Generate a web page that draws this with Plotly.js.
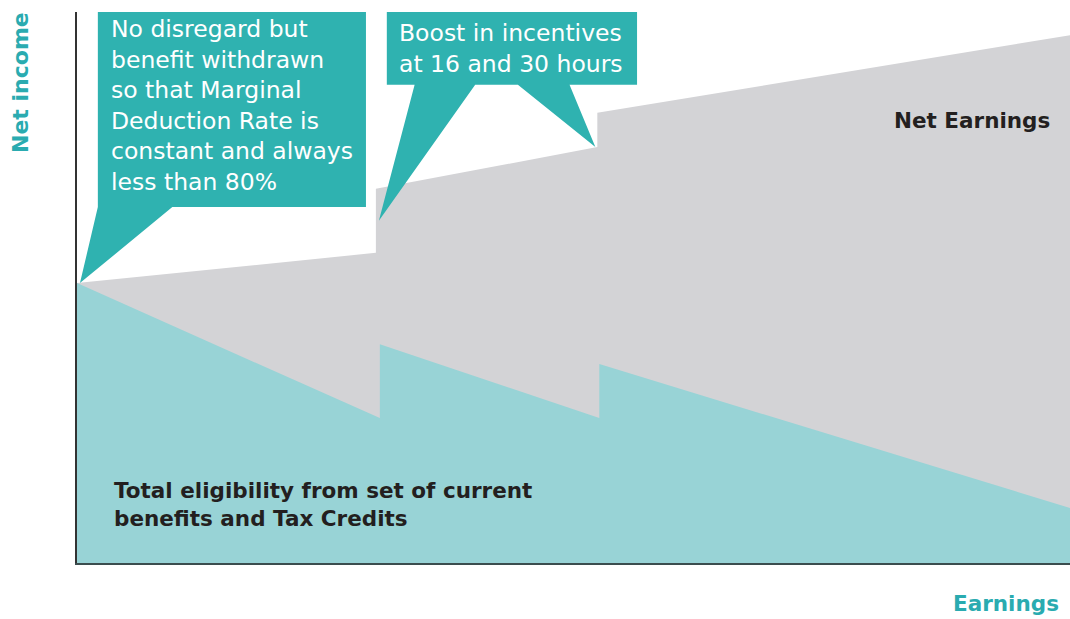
<!DOCTYPE html>
<html>
<head>
<meta charset="utf-8">
<script src="https://cdn.plot.ly/plotly-3.0.1.min.js"></script>
<style>html,body{margin:0;padding:0;background:#fff;}#chart{width:1070px;height:619px;}</style>
</head>
<body>
<div id="chart"></div>
<script>
// Earnings (arbitrary units, 0-100) and net income (arbitrary units, 0-100)
const benefitX = [0, 30.5, 30.5, 52.6, 52.6, 100];
const benefitY = [50.8, 26.3, 39.7, 26.3, 36.1, 10.0];
const netX = [0, 30.1, 30.1, 52.4, 52.4, 100];
const netY = [50.8, 56.3, 67.9, 75.5, 81.7, 95.8];

const callout1Lines = ["No disregard but", "benefit withdrawn", "so that Marginal", "Deduction Rate is", "constant and always", "less than 80%"];
const callout2Lines = ["Boost in incentives", "at 16 and 30 hours"];
const benefitLabelLines = ["Total eligibility from set of current", "benefits and Tax Credits"];
const netLabel = "Net Earnings";
const yTitle = "Net income";
const xTitle = "Earnings";

const TEAL_DARK = '#2fb2b0';
const TEAL_LIGHT = '#98d3d6';
const GREY = '#d3d3d6';
const TEAL_TITLE = '#2aabb0';
const DARK = '#231f20';
const FONT = 'DejaVu Sans, sans-serif';

const traces = [
  {x: netX, y: netY, type: 'scatter', mode: 'lines', fill: 'tozeroy', fillcolor: GREY,
   line: {width: 0, color: GREY}, hoverinfo: 'skip', showlegend: false},
  {x: benefitX, y: benefitY, type: 'scatter', mode: 'lines', fill: 'tozeroy', fillcolor: TEAL_LIGHT,
   line: {width: 0, color: TEAL_LIGHT}, hoverinfo: 'skip', showlegend: false}
];

// Callout geometry (data units); pointer tips taken from the series
const tip1 = [netX[0] + 0.3, netY[0]];
const tip2 = [netX[1] + 0.3, (netY[1] + netY[2]) / 2];
const tip3 = [netX[3] - 0.2, netY[3]];
const box1 = {x0: 2.1, x1: 29.1, y0: 64.6, y1: 100};
const box2 = {x0: 31.2, x1: 56.4, y0: 86.8, y1: 100};

const path1 = `M ${box1.x0},${box1.y1} L ${box1.x1},${box1.y1} L ${box1.x1},${box1.y0} L 9.6,${box1.y0} L ${tip1[0]},${tip1[1]} L ${box1.x0},${box1.y0} Z`;
const path2 = `M ${box2.x0},${box2.y1} L ${box2.x1},${box2.y1} L ${box2.x1},${box2.y0} L 49.6,${box2.y0} L ${tip3[0]},${tip3[1]} L 44.4,${box2.y0} L 40.1,${box2.y0} L ${tip2[0]},${tip2[1]} L 34.0,${box2.y0} L ${box2.x0},${box2.y0} Z`;

const shapes = [
  {type: 'path', path: path1, xref: 'x', yref: 'y', fillcolor: TEAL_DARK, line: {width: 0}, layer: 'above'},
  {type: 'path', path: path2, xref: 'x', yref: 'y', fillcolor: TEAL_DARK, line: {width: 0}, layer: 'above'}
];

const annotations = [
  {text: callout1Lines.join('<br>'), x: 3.2, y: 83.0, xref: 'x', yref: 'y', xanchor: 'left', yanchor: 'middle', align: 'left',
   showarrow: false, font: {family: FONT, size: 23.5, color: '#ffffff'}},
  {text: callout2Lines.join('<br>'), x: 32.2, y: 93.3, xref: 'x', yref: 'y', xanchor: 'left', yanchor: 'middle', align: 'left',
   showarrow: false, font: {family: FONT, size: 23.5, color: '#ffffff'}},
  {text: '<b>' + benefitLabelLines.join('<br>') + '</b>', x: 3.5, y: 10.6, xref: 'x', yref: 'y', xanchor: 'left', yanchor: 'middle', align: 'left',
   showarrow: false, font: {family: FONT, size: 21.5, color: DARK}},
  {text: '<b>' + netLabel + '</b>', x: 98.2, y: 80.4, xref: 'x', yref: 'y', xanchor: 'right', yanchor: 'middle',
   showarrow: false, font: {family: FONT, size: 21.5, color: DARK}},
  {text: '<b>' + yTitle + '</b>', x: -0.0564, y: 0.873, xref: 'paper', yref: 'paper', xanchor: 'center', yanchor: 'middle',
   textangle: -90, showarrow: false, font: {family: FONT, size: 22, color: TEAL_TITLE}},
  {text: '<b>' + xTitle + '</b>', x: 0.991, y: -0.0744, xref: 'paper', yref: 'paper', xanchor: 'right', yanchor: 'middle',
   showarrow: false, font: {family: FONT, size: 21.5, color: TEAL_TITLE}}
];

const layout = {
  width: 1070, height: 619,
  margin: {l: 77, r: 0, t: 12, b: 56},
  paper_bgcolor: '#ffffff', plot_bgcolor: '#ffffff',
  xaxis: {range: [0, 100], showline: true, linecolor: '#3b4d4e', linewidth: 2, showgrid: false, zeroline: false,
          showticklabels: false, ticks: '', fixedrange: true},
  yaxis: {range: [0, 100], showline: true, linecolor: '#333333', linewidth: 2, showgrid: false, zeroline: false,
          showticklabels: false, ticks: '', fixedrange: true},
  shapes: shapes,
  annotations: annotations,
  showlegend: false
};

Plotly.newPlot('chart', traces, layout, {displayModeBar: false, staticPlot: true});
</script>
</body>
</html>
